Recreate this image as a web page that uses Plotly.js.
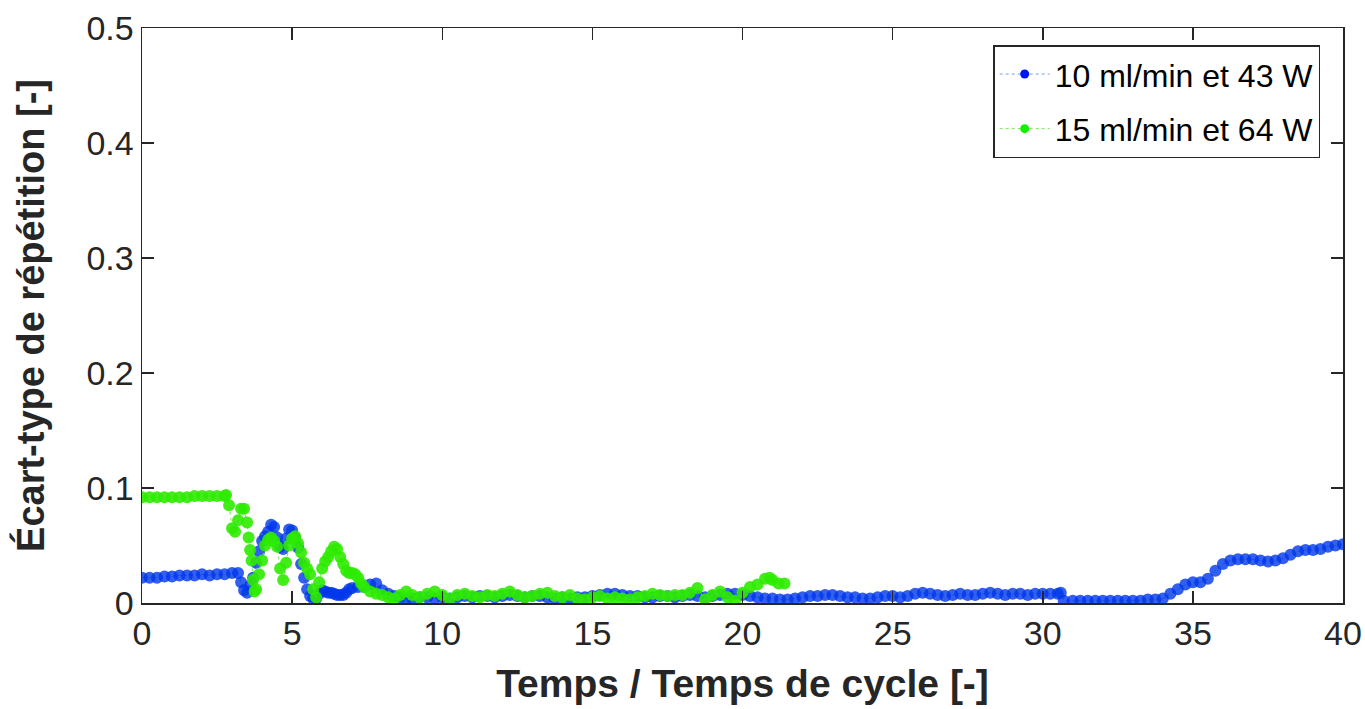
<!DOCTYPE html>
<html>
<head>
<meta charset="utf-8">
<script src="https://cdn.plot.ly/plotly-3.0.1.min.js"></script>
<style>html,body{margin:0;padding:0;background:#fff;}#chart{width:1365px;height:709px;}</style>
</head>
<body>
<div id="chart"></div>
<script>
// Series 1: 10 ml/min et 43 W
var blueX = [0,0.25,0.5,0.75,1,1.25,1.5,1.75,2,2.25,2.5,2.75,3,3.2,3.3,3.4,3.5,3.6,3.7,3.8,3.9,4,4.1,4.2,4.3,4.4,4.5,4.6,4.7,4.8,4.9,5,5.1,5.2,5.3,5.4,5.5,5.6,5.7,5.8,5.9,6,6.1,6.2,6.3,6.4,6.5,6.6,6.7,6.8,6.9,7,7.2,7.4,7.6,7.8,8,8.2,8.4,8.6,8.8,9,9.25,9.5,9.75,10,10.25,10.5,10.75,11,11.25,11.5,11.75,12,12.25,12.5,12.75,13,13.25,13.5,13.75,14,14.25,14.5,14.75,15,15.25,15.5,15.75,16,16.25,16.5,16.75,17,17.25,17.5,17.75,18,18.25,18.5,18.75,19,19.25,19.5,19.75,20,20.25,20.5,20.75,21,21.25,21.5,21.75,22,22.25,22.5,22.75,23,23.25,23.5,23.75,24,24.25,24.5,24.75,25,25.25,25.5,25.75,26,26.25,26.5,26.75,27,27.25,27.5,27.75,28,28.25,28.5,28.75,29,29.25,29.5,29.75,30,30.25,30.5,30.6,30.7,31,31.25,31.5,31.75,32,32.25,32.5,32.75,33,33.25,33.5,33.75,34,34.25,34.5,34.75,35,35.25,35.5,35.75,36,36.25,36.5,36.75,37,37.25,37.5,37.75,38,38.25,38.5,38.75,39,39.25,39.5,39.75,40];
var blueY = [0.022,0.022,0.022,0.023,0.023,0.024,0.024,0.024,0.025,0.024,0.025,0.025,0.026,0.026,0.018,0.011,0.009,0.015,0.022,0.035,0.045,0.054,0.058,0.062,0.068,0.066,0.057,0.049,0.047,0.056,0.064,0.063,0.056,0.048,0.034,0.022,0.012,0.006,0.004,0.004,0.008,0.011,0.010,0.009,0.009,0.008,0.007,0.007,0.007,0.009,0.012,0.013,0.014,0.014,0.016,0.017,0.011,0.008,0.006,0.005,0.004,0.004,0.005,0.005,0.004,0.005,0.004,0.005,0.006,0.005,0.006,0.006,0.005,0.006,0.007,0.006,0.005,0.006,0.006,0.005,0.004,0.005,0.004,0.005,0.005,0.006,0.007,0.008,0.008,0.007,0.006,0.006,0.005,0.005,0.006,0.006,0.005,0.006,0.007,0.006,0.005,0.006,0.007,0.008,0.008,0.007,0.006,0.005,0.004,0.004,0.003,0.003,0.004,0.005,0.006,0.006,0.007,0.007,0.006,0.005,0.005,0.004,0.004,0.005,0.006,0.006,0.005,0.006,0.008,0.009,0.008,0.007,0.006,0.007,0.008,0.007,0.007,0.008,0.009,0.008,0.007,0.008,0.008,0.007,0.008,0.008,0.008,0.008,0.009,0.002,0.002,0.002,0.002,0.002,0.002,0.002,0.002,0.002,0.002,0.002,0.003,0.003,0.004,0.008,0.012,0.016,0.018,0.018,0.021,0.028,0.034,0.037,0.038,0.038,0.038,0.037,0.036,0.037,0.039,0.042,0.045,0.046,0.046,0.047,0.049,0.050,0.051];

// Series 2: 15 ml/min et 64 W
var greenX = [0,0.25,0.5,0.75,1,1.25,1.5,1.75,2,2.25,2.5,2.75,2.8,2.9,3,3.1,3.2,3.3,3.4,3.5,3.55,3.6,3.65,3.7,3.75,3.8,3.9,4,4.1,4.2,4.3,4.4,4.5,4.6,4.7,4.8,4.9,5,5.1,5.2,5.3,5.4,5.5,5.6,5.7,5.8,5.9,6,6.1,6.2,6.3,6.4,6.5,6.6,6.7,6.8,6.9,7,7.1,7.2,7.3,7.4,7.6,7.8,8,8.2,8.4,8.6,8.8,9,9.25,9.5,9.75,10,10.25,10.5,10.75,11,11.25,11.5,11.75,12,12.25,12.5,12.75,13,13.25,13.5,13.75,14,14.25,14.5,14.75,15,15.25,15.5,15.75,16,16.25,16.5,16.75,17,17.25,17.5,17.75,18,18.25,18.5,18.75,19,19.25,19.5,19.75,20,20.25,20.5,20.75,20.9,21,21.2,21.4];
var greenY = [0.092,0.092,0.092,0.092,0.092,0.092,0.092,0.093,0.093,0.093,0.093,0.093,0.094,0.085,0.065,0.062,0.072,0.082,0.082,0.070,0.057,0.046,0.037,0.020,0.010,0.012,0.025,0.037,0.050,0.055,0.057,0.054,0.049,0.030,0.020,0.035,0.050,0.056,0.058,0.052,0.044,0.035,0.030,0.025,0.012,0.005,0.018,0.030,0.036,0.040,0.045,0.049,0.047,0.040,0.034,0.028,0.026,0.026,0.025,0.022,0.017,0.014,0.010,0.008,0.007,0.005,0.004,0.007,0.010,0.007,0.005,0.008,0.010,0.007,0.004,0.007,0.008,0.006,0.005,0.007,0.006,0.008,0.010,0.007,0.005,0.006,0.008,0.009,0.006,0.005,0.007,0.004,0.003,0.005,0.006,0.004,0.005,0.004,0.003,0.005,0.006,0.008,0.007,0.006,0.007,0.007,0.009,0.013,0.003,0.007,0.010,0.005,0.002,0.009,0.014,0.016,0.021,0.022,0.020,0.017,0.017];

var seriesNames = ['10 ml/min et 43 W', '15 ml/min et 64 W'];
var xTicks = [0,5,10,15,20,25,30,35,40];
var yTicks = [0,0.1,0.2,0.3,0.4,0.5];

var FONT = 'Liberation Sans, Arial, Helvetica, sans-serif';
var DARK = '#262626';
var BLUE = 'rgb(0,55,235)', BLUE_LINE = 'rgb(110,160,235)';
var GREEN = 'rgb(45,235,0)', GREEN_LINE = 'rgb(120,230,90)';

var traces = [
  {x: blueX, y: blueY, name: seriesNames[0], type: 'scatter', mode: 'lines+markers',
   showlegend: false,
   line: {color: BLUE_LINE, width: 1, dash: 'dot'},
   marker: {color: BLUE, size: 12, opacity: 0.8}},
  {x: greenX, y: greenY, name: seriesNames[1], type: 'scatter', mode: 'lines+markers',
   showlegend: false,
   line: {color: GREEN_LINE, width: 1, dash: 'dot'},
   marker: {color: GREEN, size: 12, opacity: 0.9}},
  // legend entries (small markers like the reference legend)
  {x: [null], y: [null], name: seriesNames[0], type: 'scatter', mode: 'lines+markers',
   legendgroup: 'a',
   line: {color: BLUE_LINE, width: 1, dash: 'dot'},
   marker: {color: 'rgb(0,20,245)', size: 9}},
  {x: [null], y: [null], name: seriesNames[1], type: 'scatter', mode: 'lines+markers',
   legendgroup: 'b',
   line: {color: GREEN_LINE, width: 1, dash: 'dot'},
   marker: {color: 'rgb(20,240,0)', size: 9}}
];

var axisCommon = {
  showline: true, linecolor: DARK, linewidth: 1.5, mirror: 'ticks',
  ticks: 'inside', ticklen: 12, tickwidth: 1.5, tickcolor: DARK,
  showgrid: false, zeroline: false,
  tickfont: {family: FONT, size: 34, color: DARK}
};

var layout = {
  width: 1365, height: 709,
  margin: {l: 142, r: 22, t: 28, b: 106},
  paper_bgcolor: '#fff', plot_bgcolor: '#fff',
  showlegend: true,
  xaxis: Object.assign({}, axisCommon, {
    range: [0, 40], tickvals: xTicks, ticktext: xTicks.map(String),
    title: {text: 'Temps / Temps de cycle [-]', font: {family: FONT, size: 39, color: DARK, weight: 'bold'}, standoff: 18}
  }),
  yaxis: Object.assign({}, axisCommon, {
    range: [0, 0.5], tickvals: yTicks, ticktext: yTicks.map(String),
    title: {text: 'Écart-type de répétition [-]', font: {family: FONT, size: 38, color: DARK, weight: 'bold'}, standoff: 30}
  }),
  legend: {
    x: 0.981, xanchor: 'right', y: 0.97, yanchor: 'top',
    bgcolor: '#fff', bordercolor: DARK, borderwidth: 1.5,
    font: {family: FONT, size: 32, color: '#000'},
    traceorder: 'grouped', tracegroupgap: 10, itemwidth: 50
  }
};

Plotly.newPlot('chart', traces, layout, {displayModeBar: false, staticPlot: true});
</script>
</body>
</html>
